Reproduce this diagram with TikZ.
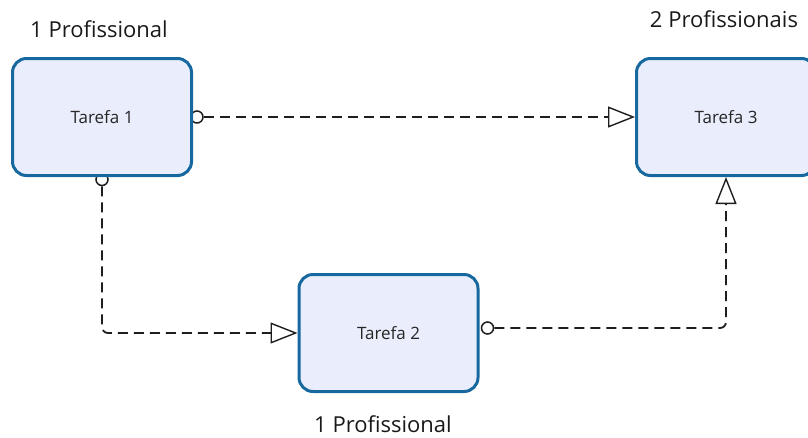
\documentclass[tikz,border=0pt]{standalone}
\usepackage{fontspec}
\setmainfont{Open Sans}
\usetikzlibrary{arrows.meta,backgrounds,calc}
\definecolor{taskedge}{RGB}{22,104,158}
\definecolor{taskfill}{RGB}{234,238,252}
\definecolor{linkgray}{RGB}{30,30,30}
\begin{document}
\begin{tikzpicture}[x=1pt,y=-1pt,
  task/.style={draw=taskedge, fill=taskfill, line width=3pt, rounded corners=14pt,
    minimum width=179pt, minimum height=117pt, inner sep=0pt,
    font=\fontsize{17}{20}\selectfont, text=black!85},
  staff/.style={inner sep=0pt, anchor=base, font=\fontsize{22}{26}\selectfont, text=black!90},
  link/.style={draw=linkgray, line width=1.8pt, dash pattern=on 10pt off 6pt},
  opentip/.style={-{Triangle[open, length=27pt, width=21pt, line width=1.4pt]}},
  port/.style={draw=linkgray, line width=1.5pt, fill=white, circle, inner sep=0pt, minimum size=12pt}
]
\useasboundingbox (0,0) rectangle (808,437);
\clip (0,0) rectangle (808,437);

% tasks
\node[task] (t1) at (102,117) {Tarefa 1};
\node[task] (t2) at (388.5,333) {Tarefa 2};
\node[task] (t3) at (726,117) {Tarefa 3};

% staffing labels
\node[staff] (s1) at (99,37) {1 Profissional};
\node[staff] (s3) at (724,27) {2 Profissionais};
\node[staff] (s2) at (383,432) {1 Profissional};

% start ports, tucked behind the task borders
\begin{scope}[on background layer]
  \node[port] (p1) at ($(t1.east)+(4,0)$) {};
  \node[port] (p2) at ($(t1.south)+(0,2.5)$) {};
  \node[port] (p3) at ($(t2.east)+(8,-5)$) {};
\end{scope}

% dependencies
\draw[link, opentip] (p1.east) -- (t3.west);
\draw[link, opentip, rounded corners=6pt] (p2.south) -- (p2.south |- t2.west) -- (t2.west);
\draw[link, opentip, rounded corners=6pt] (p3.east) -- (p3.east -| t3.south) -- (t3.south);
\end{tikzpicture}
\end{document}
